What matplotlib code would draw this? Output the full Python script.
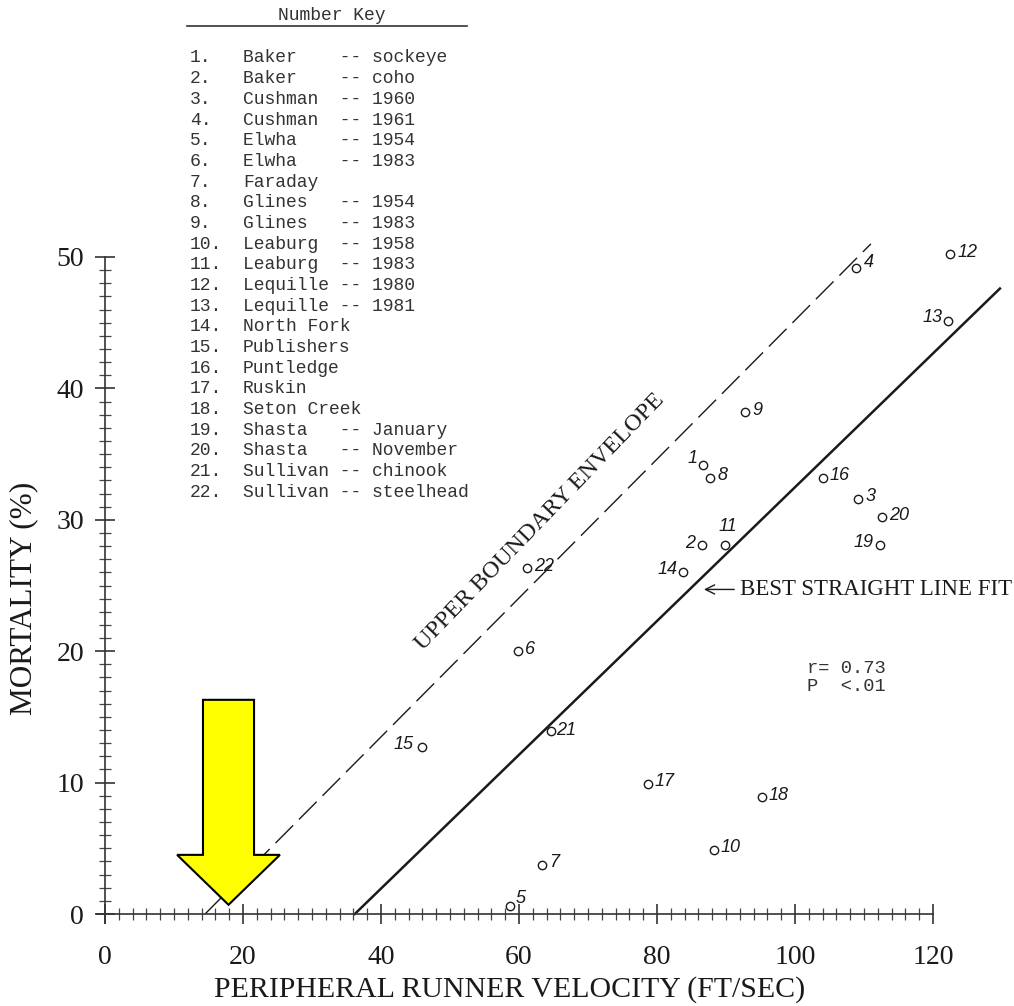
import matplotlib
matplotlib.use('Agg')
import matplotlib.pyplot as plt
from matplotlib.patches import FancyArrow
from matplotlib.lines import Line2D

# Datos (velocidad periferica vs mortalidad)
numeros = list(range(1, 23))
velocidad = [86.7, 86.5, 109.2, 108.9, 58.7, 59.9, 63.3, 87.7, 92.8, 88.2, 89.9,
             122.5, 122.2, 83.8, 45.9, 104.0, 78.7, 95.2, 112.3, 112.6, 64.7, 61.2]
mortalidad = [34.2, 28.1, 31.6, 49.2, 0.6, 20.0, 3.7, 33.2, 38.2, 4.9, 28.1,
              50.2, 45.1, 26.0, 12.7, 33.2, 9.9, 8.9, 28.1, 30.2, 13.9, 26.3]

# Clave de numeros
nombres = ['Baker', 'Baker', 'Cushman', 'Cushman', 'Elwha', 'Elwha', 'Faraday',
           'Glines', 'Glines', 'Leaburg', 'Leaburg', 'Lequille', 'Lequille',
           'North Fork', 'Publishers', 'Puntledge', 'Ruskin', 'Seton Creek',
           'Shasta', 'Shasta', 'Sullivan', 'Sullivan']
detalles = ['sockeye', 'coho', '1960', '1961', '1954', '1983', '',
            '1954', '1983', '1958', '1983', '1980', '1981',
            '', '', '', '', '', 'January', 'November', 'chinook', 'steelhead']

# Rectas: envolvente superior y mejor ajuste (extremos)
envolvente_x = [14.5, 111.0]
envolvente_y = [0.0, 51.0]
ajuste_x = [36.2, 129.7]
ajuste_y = [0.0, 47.6]

x_ticks = [0, 20, 40, 60, 80, 100, 120]
y_ticks = [0, 10, 20, 30, 40, 50]

# desplazamiento de las etiquetas de cada punto (pixeles, alineacion)
etiqueta_pos = {1: (-6, 6, 'right'), 2: (-7, 1, 'right'), 4: (7, 5, 'left'),
                5: (6, 8, 'left'), 7: (7, 3, 'left'), 11: (3, 18, 'center'),
                13: (-6, 4, 'right'), 14: (-6, 3, 'right'), 15: (-8, 3, 'right'),
                19: (-6, 2, 'right'), 21: (5, 1, 'left')}

tinta = '#1a1a1a'
serif = ['Liberation Serif', 'DejaVu Serif']

fig = plt.figure(figsize=(10.14, 10.06), dpi=100)
ax = fig.add_axes([105 / 1014, 92 / 1006, 909 / 1014, 914 / 1006])
ax.set_xlim(0, 909 / 6.9)
ax.set_ylim(0, 914 / 13.14)

for s in ['top', 'right']:
    ax.spines[s].set_visible(False)
ax.spines['left'].set_bounds(-0.7, 50)
ax.spines['bottom'].set_bounds(-1.2, 120)
for s in ['left', 'bottom']:
    ax.spines[s].set_color('#333')
    ax.spines[s].set_linewidth(1.2)

ax.set_xticks(x_ticks)
ax.set_yticks(y_ticks)
ax.set_xticks(range(0, 121, 2), minor=True)
ax.set_yticks(range(0, 51, 1), minor=True)
ax.tick_params(which='major', direction='inout', length=14, width=1.2, color='#333')
ax.tick_params(which='minor', direction='inout', length=8, width=0.9, color='#444')
ax.tick_params(axis='x', which='major', pad=15)
ax.tick_params(axis='y', which='major', pad=8)
for lab in ax.get_xticklabels() + ax.get_yticklabels():
    lab.set_fontfamily(serif)
    lab.set_fontsize(20)
    lab.set_color(tinta)

ax.set_xlabel('PERIPHERAL RUNNER VELOCITY (FT/SEC)', fontsize=21.5, family=serif, color=tinta)
ax.set_ylabel('MORTALITY (%)', fontsize=22.5, family=serif, color=tinta)
ax.xaxis.set_label_coords(0.4455, -0.068)
ax.yaxis.set_label_coords(-0.074, 0.3457)

# rectas
ax.plot(envolvente_x, envolvente_y, color=tinta, lw=1.0, linestyle=(0, (18, 6)))
ax.plot(ajuste_x, ajuste_y, color=tinta, lw=1.8, clip_on=False)

# puntos con su numero
ax.plot(velocidad, mortalidad, 'o', mfc='none', mec=tinta, ms=6, mew=1.0, zorder=3)
for n, xv, yv in zip(numeros, velocidad, mortalidad):
    dx, dy, ha = etiqueta_pos.get(n, (7, 2, 'left'))
    ax.annotate(str(n), (xv, yv), xytext=(dx, dy), textcoords='offset pixels',
                ha=ha, va='center', fontsize=13, fontstyle='italic',
                family='Liberation Sans', color=tinta)

ax.text(63.0, 29.8, 'UPPER BOUNDARY ENVELOPE', rotation=46, rotation_mode='anchor',
        ha='center', va='center', fontsize=17.5, family=serif, color=tinta)
ax.annotate('BEST STRAIGHT LINE FIT', xy=(86.8, 24.7), xytext=(92.0, 24.7),
            ha='left', va='center', fontsize=16.5, family=serif, color=tinta,
            arrowprops=dict(arrowstyle='->', color=tinta, lw=1.0, shrinkA=2, shrinkB=0))
ax.text(101.7, 18.0, 'r= 0.73\nP  <.01', ha='left', va='center', fontsize=13.5,
        family='Liberation Mono', color='#333', linespacing=1.15)

# flecha amarilla
ax.add_patch(FancyArrow(17.9, 16.3, 0, -15.6, width=7.4, head_width=14.9,
                        head_length=3.8, length_includes_head=True,
                        facecolor='#FFFF00', edgecolor='black', lw=1.5, zorder=5))

# Clave "Number Key"
fig.text(332 / 1014, 1 - 15 / 1006, 'Number Key', ha='center', va='center',
         fontsize=13, family='Liberation Mono', color='#333')
fig.add_artist(Line2D([187 / 1014, 467 / 1014], [1 - 26 / 1006, 1 - 26 / 1006],
                      color='#333', lw=1.2))
for i, (nom, det) in enumerate(zip(nombres, detalles)):
    y = 1 - (58 + 20.67 * i) / 1006
    fig.text(190 / 1014, y, f'{numeros[i]}.', ha='left', va='center', fontsize=13,
             family='Liberation Mono', color='#333')
    fila = f'{nom:<9}-- {det}' if det else nom
    fig.text(243 / 1014, y, fila, ha='left', va='center', fontsize=13,
             family='Liberation Mono', color='#333')

fig.savefig('out.png', dpi=100)
